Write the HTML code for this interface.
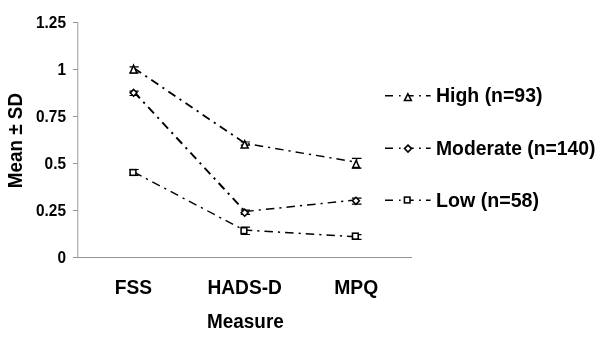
<!DOCTYPE html>
<html>
<head>
<meta charset="utf-8">
<title>Chart</title>
<style>
html,body{margin:0;padding:0;background:#fff;}
body{width:600px;height:343px;overflow:hidden;}
svg{display:block;filter:blur(0.35px);}
text{font-family:"Liberation Sans",Arial,Helvetica,sans-serif;font-weight:bold;fill:#000;}
.t14{font-size:19.6px;}
.t11{font-size:16.2px;}
.ax{stroke:#969696;stroke-width:1;fill:none;shape-rendering:crispEdges;}
.ln{stroke:#000;fill:none;stroke-dasharray:8.5 5 2.2 5;}
.l2{stroke-width:1.45;}
.mk{stroke:#000;stroke-width:1.55;fill:#fff;}
.lg{stroke:#000;stroke-width:1.5;fill:none;}
.eb{stroke:#000;stroke-width:1.2;fill:none;}
</style>
</head>
<body>
<svg width="600" height="343" viewBox="0 0 600 343">
<rect x="0" y="0" width="600" height="343" fill="#fff"/>
<!-- axes -->
<path d="M77.75 22V258" stroke="#9c9c9c" stroke-width="1" fill="none"/>
<path class="ax" d="M73 22.5H78M73 69.5H78M73 116.5H78M73 163.5H78M73 210.5H78M73 257.5H412"/>
<!-- y tick labels -->
<g class="t11" text-anchor="end">
<text x="66" y="28.1" textLength="29.97" lengthAdjust="spacingAndGlyphs">1.25</text>
<text x="66" y="75.1" textLength="8.56" lengthAdjust="spacingAndGlyphs">1</text>
<text x="66" y="122.1" textLength="29.97" lengthAdjust="spacingAndGlyphs">0.75</text>
<text x="66" y="169.1" textLength="21.4" lengthAdjust="spacingAndGlyphs">0.5</text>
<text x="66" y="216.1" textLength="29.97" lengthAdjust="spacingAndGlyphs">0.25</text>
<text x="66" y="263.1" textLength="8.56" lengthAdjust="spacingAndGlyphs">0</text>
</g>
<!-- x labels -->
<g class="t14" text-anchor="middle">
<text x="133.5" y="294" textLength="37.3" lengthAdjust="spacingAndGlyphs">FSS</text>
<text x="244.7" y="294" textLength="74.5" lengthAdjust="spacingAndGlyphs">HADS-D</text>
<text x="356.2" y="294" textLength="44" lengthAdjust="spacingAndGlyphs">MPQ</text>
<text x="245.4" y="328.3" textLength="76.8" lengthAdjust="spacingAndGlyphs">Measure</text>
<text transform="translate(22.3,140.6) rotate(-90)" x="0" y="0" textLength="95.2" lengthAdjust="spacingAndGlyphs">Mean ± SD</text>
</g>
<!-- lines -->
<path class="ln" d="M134.1 68.2L245.1 143.4" stroke-width="1.8"/>
<path class="ln l2" d="M245.1 143.4L356.4 162.2" stroke-dashoffset="10.9"/>
<path class="ln" d="M134.1 92L245.1 211.5" stroke-width="1.95"/>
<path class="ln l2" d="M245.1 211.5L356.4 199.9" stroke-dashoffset="20.5"/>
<path class="ln" d="M134 172.2L245 230.6" stroke-width="1.4"/>
<path class="ln l2" d="M245 230.1L356.3 236.8" stroke-dashoffset="1.23"/>
<!-- error bars -->
<g class="eb">
<path d="M134.1 66.8V72.9M129.5 66.8H138.7M129.5 72.9H138.7"/>
<path d="M134.1 91.1V95.5M129.5 91.1H138.7M129.5 95.5H138.7"/>
<path d="M134.1 169.5V175.4M129.5 169.5H138.7M129.5 175.4H138.7"/>
<path d="M245.4 142V145.2M240.8 142H250.1M240.8 145.2H250.1"/>
<path d="M245.4 210.1V214.4M240.8 210.1H250.1M240.8 214.4H250.1"/>
<path d="M245.4 227.1V234.5M240.8 227.1H250.1M240.8 234.5H250.1"/>
<path d="M356.7 158.4V168.1M351.9 158.4H361.5M351.9 168.1H361.5"/>
<path d="M356.7 198.2V204.2M351.9 198.2H361.5M351.9 204.2H361.5"/>
<path d="M356.7 234.6V239.3M351.9 234.6H361.5M351.9 239.3H361.5"/>
</g>
<!-- markers -->
<g class="mk">
<path d="M133.55 65.3L136.85 73H130.25Z"/>
<path d="M244.65 140.7L248.1 147.9H241.2Z"/>
<path d="M356.1 160.5L359.5 167.6H352.7Z"/>
<path d="M133.6 89.45L137 92.85L133.6 96.25L130.2 92.85Z"/>
<path d="M244.7 209.2L248.2 212.7L244.7 216.2L241.2 212.7Z"/>
<path d="M355.9 197.3L359.4 200.8L355.9 204.3L352.4 200.8Z"/>
<rect x="130.1" y="169.6" width="5.8" height="5.7"/>
<rect x="241.1" y="227.7" width="5.7" height="5.9"/>
<rect x="352.5" y="233.2" width="5.7" height="5.9"/>
</g>
<!-- legend -->
<g>
<path class="lg" d="M385 95.8H393M399 95.8H400.6M407.5 95.8H413.7M419 95.8H420.8M426 95.8H430.6"/>
<path class="lg" d="M385 148.2H393M399 148.2H400.6M407.5 148.2H413.7M419 148.2H420.8M426 148.2H430.6"/>
<path class="lg" d="M385 200.2H393M399 200.2H400.6M407.5 200.2H413.7M419 200.2H420.8M426 200.2H430.6"/>
<g class="mk">
<path d="M407.9 93.8L411.3 100.5H404.5Z"/>
<path d="M408 145.1L411.5 148.6L408 152.1L404.5 148.6Z"/>
<rect x="404.4" y="197.1" width="5.6" height="5.8"/>
</g>
<g class="t14">
<text x="436" y="102.3" textLength="106.5" lengthAdjust="spacingAndGlyphs">High (n=93)</text>
<text x="436" y="154.8" textLength="159.5" lengthAdjust="spacingAndGlyphs">Moderate (n=140)</text>
<text x="436" y="207" textLength="103" lengthAdjust="spacingAndGlyphs">Low (n=58)</text>
</g>
</g>
</svg>
</body>
</html>
